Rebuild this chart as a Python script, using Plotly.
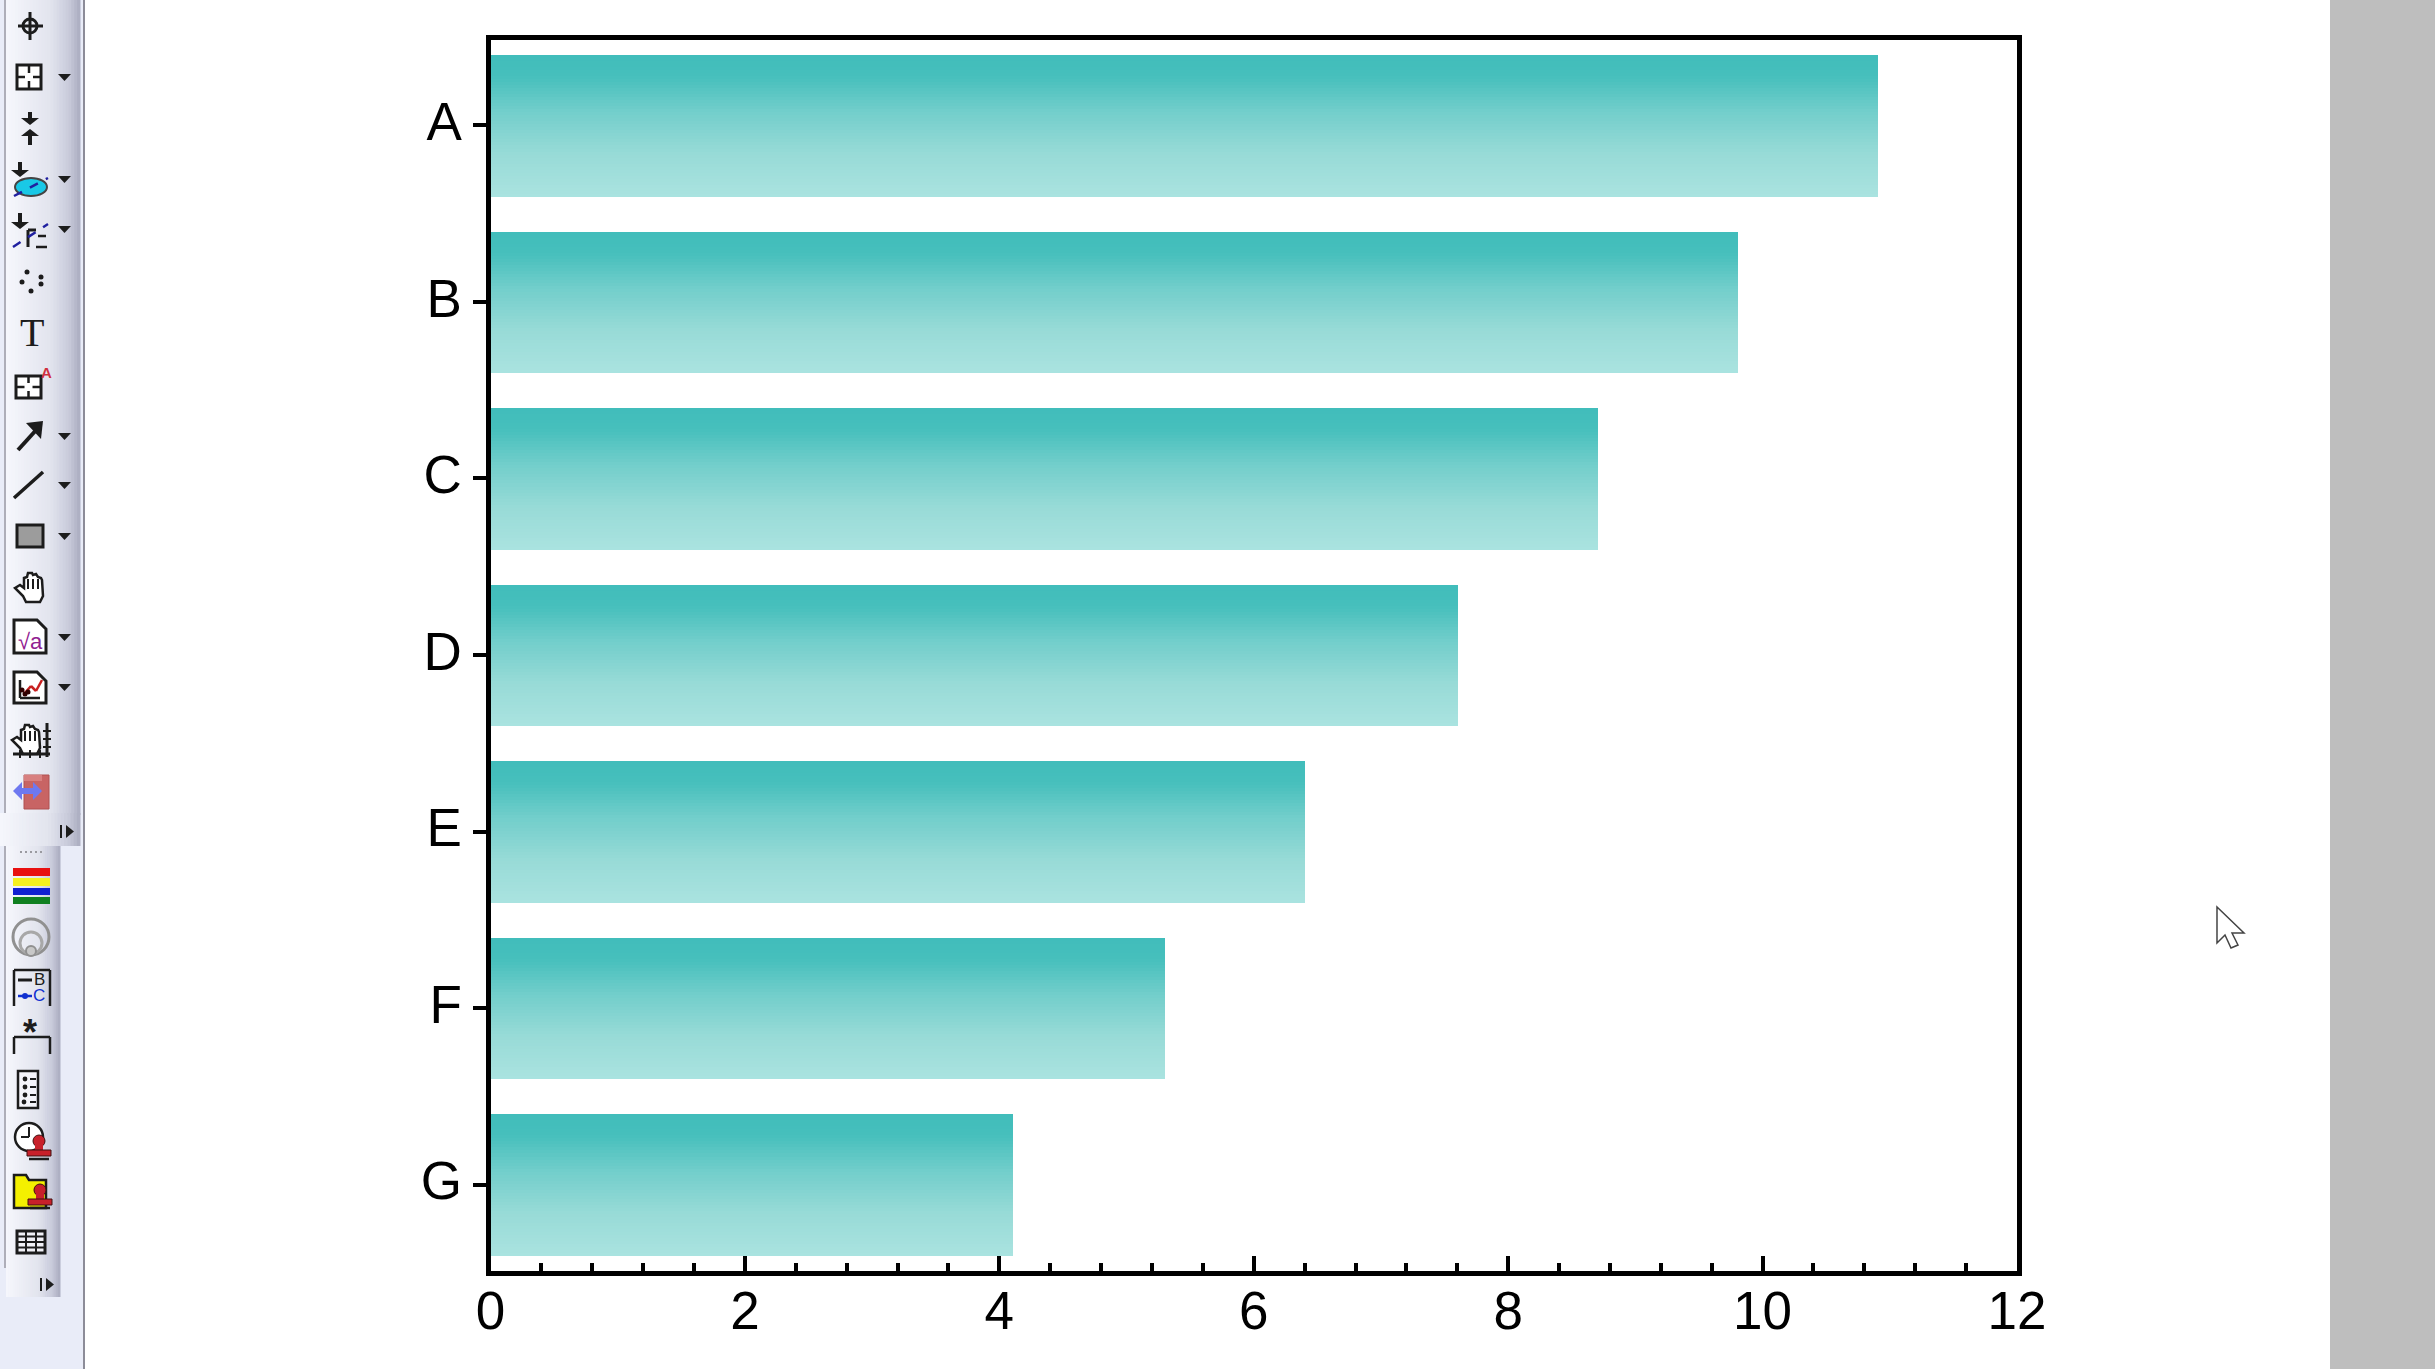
import plotly.graph_objects as go

categories = ["A", "B", "C", "D", "E", "F", "G"]
values = [10.9, 9.8, 8.7, 7.6, 6.4, 5.3, 4.1]
x_ticks = [0, 2, 4, 6, 8, 10, 12]

W, H = 2435, 1369
FONT = "Liberation Sans"
INK = "#000000"
DARK = "#1C1C1C"

# gradient of each bar, top to bottom: (fraction, rgb)
GRADIENT = [
    (0.0, (65, 189, 187)),
    (0.15, (70, 191, 188)),
    (0.4, (114, 206, 203)),
    (0.7, (152, 219, 215)),
    (1.0, (170, 227, 224)),
]
N_STRIPS = 47
BAR_WIDTH = 0.8

# toolbar shading, left to right
PANEL = [
    (0.0, (246, 247, 252)),
    (0.6, (226, 228, 238)),
    (0.85, (200, 202, 218)),
    (1.0, (170, 172, 192)),
]


def ramp(stops, t):
    for (t0, c0), (t1, c1) in zip(stops, stops[1:]):
        if t <= t1:
            f = (t - t0) / (t1 - t0)
            rgb = [round(a + (b - a) * f) for a, b in zip(c0, c1)]
            return "rgb({},{},{})".format(*rgb)
    return "rgb({},{},{})".format(*stops[-1][1])


fig = go.Figure()

# plotly bars have no gradient fill, so each bar is a stack of thin strips
strip = BAR_WIDTH / N_STRIPS
for i in range(N_STRIPS):
    fig.add_trace(
        go.Bar(
            x=values,
            y=categories,
            orientation="h",
            width=strip,
            offset=-BAR_WIDTH / 2 + i * strip,
            marker=dict(color=ramp(GRADIENT, (i + 0.5) / N_STRIPS), line=dict(width=0)),
            hoverinfo="skip",
            showlegend=False,
        )
    )

shapes = []
annotations = []


# the window chrome around the chart is given in screen pixels
def X(px):
    return px / W


def Y(py):
    return 1 - py / H


def rect(x0, y0, x1, y1, fill="rgba(0,0,0,0)", color=DARK, lw=0):
    shapes.append(
        dict(type="rect", xref="paper", yref="paper", x0=X(x0), y0=Y(y0), x1=X(x1), y1=Y(y1),
             fillcolor=fill, line=dict(color=color, width=lw))
    )


def line(x0, y0, x1, y1, color=DARK, lw=2, dash="solid"):
    shapes.append(
        dict(type="line", xref="paper", yref="paper", x0=X(x0), y0=Y(y0), x1=X(x1), y1=Y(y1),
             line=dict(color=color, width=lw, dash=dash))
    )


def circ(cx, cy, rx, ry=None, fill="rgba(0,0,0,0)", color=DARK, lw=0):
    ry = rx if ry is None else ry
    shapes.append(
        dict(type="circle", xref="paper", yref="paper", x0=X(cx - rx), y0=Y(cy + ry), x1=X(cx + rx), y1=Y(cy - ry),
             fillcolor=fill, line=dict(color=color, width=lw))
    )


def poly(pts, fill=DARK, color=DARK, lw=0):
    d = "M" + " L".join(f"{X(a):.6f},{Y(b):.6f}" for a, b in pts) + " Z"
    shapes.append(
        dict(type="path", xref="paper", yref="paper", path=d, fillcolor=fill, line=dict(color=color, width=lw))
    )


def label(x, y, text, size, color=DARK, family=FONT):
    annotations.append(
        dict(xref="paper", yref="paper", x=X(x), y=Y(y), text=text, showarrow=False,
             xanchor="center", yanchor="middle", font=dict(family=family, size=size, color=color))
    )


def shaded(x0, x1, y0, y1, steps=25):
    # vertical bands standing in for the toolbar's gradient
    step = (x1 - x0) / steps
    for k in range(steps):
        rect(x0 + k * step, y0, x0 + (k + 1) * step + 0.5, y1, fill=ramp(PANEL, (k + 0.5) / steps))


def dropdown(y):
    poly([(58, y - 3), (71, y - 3), (64.5, y + 4)], fill=DARK)


def arrow_down(x, y0, y1):
    line(x, y0, x, y1 - 4, lw=4)
    poly([(x - 9, y1 - 6), (x + 9, y1 - 6), (x, y1 + 1)])


def grid_box(x0, y0, x1, y1):
    rect(x0, y0, x1, y1, fill="#FFFFFF", lw=3)
    mx, my = (x0 + x1) / 2, (y0 + y1) / 2
    line(x0, my, mx - 4, my, lw=2.5)
    line(mx + 4, my, x1, my, lw=2.5)
    line(mx, y0, mx, my - 4, lw=2.5)
    line(mx, my + 4, mx, y1, lw=2.5)


def hand(cx, cy):
    pts = [(-16, 0), (-11, -3), (-7, 0), (-7, -10), (-4, -11), (-3, -15), (1, -15), (2, -13), (5, -14), (7, -11),
           (10, -10), (11, -8), (12, 8), (9, 14), (-5, 14), (-8, 8)]
    poly([(cx + a, cy + b) for a, b in pts], fill="#FFFFFF", color=DARK, lw=2.5)
    for dx in (-3, 2, 7):
        line(cx + dx, cy - 9, cx + dx, cy + 1, lw=2)


def document(x0, y0, x1, y1):
    poly([(x0, y0), (x1 - 9, y0), (x1, y0 + 9), (x1, y1), (x0, y1)], fill="#FFFFFF", color=DARK, lw=3)


def stamp(cx, cy):
    circ(cx, cy - 9, 6, fill="#C8202A", color="#401010", lw=1)
    rect(cx - 4, cy - 6, cx + 4, cy, fill="#C8202A")
    rect(cx - 12, cy, cx + 12, cy + 6, fill="#C8202A", color="#401010", lw=1)
    line(cx - 10, cy + 9, cx + 10, cy + 9, color=DARK, lw=2.5)


# grey area of the application window on the right
rect(2330, 0, W, H, fill="#BEBEBE")

# toolbar column
rect(0, 0, 84, H, fill="#E9ECF8")
line(84, 0, 84, H, color="#8C8C98", lw=2)
shaded(6, 80, 0, 815)
line(5, 0, 5, 815, color="#9A9AA4", lw=1.5)
shaded(0, 80, 813, 846)
shaded(6, 60, 846, 1297)
line(5, 846, 5, 1268, color="#9A9AA4", lw=1.5)

# upper toolbar icons
circ(30, 26, 7, lw=3)
line(30, 12, 30, 40, lw=3)
line(18, 26, 43, 26, lw=3)

grid_box(17, 65, 41, 89)
dropdown(77)

arrow_down(30, 112, 124)
poly([(21, 136), (39, 136), (30, 129)])
line(30, 134, 30, 145, lw=4)

arrow_down(20, 162, 176)
circ(31, 187, 16, 9, fill="#19C8E6", color="#444444", lw=2)
line(14, 196, 48, 178, color="#2020A0", lw=2.5, dash="dash")
dropdown(179)

arrow_down(20, 213, 228)
line(28, 230, 28, 247, lw=3)
line(28, 230, 36, 230, lw=3)
line(38, 236, 46, 236, lw=2.5)
line(36, 247, 47, 247, lw=2.5)
line(13, 247, 48, 224, color="#2020A0", lw=2.5, dash="dash")
dropdown(229)

for cx, cy in [(27, 272), (41, 277), (41, 284), (22, 282), (31, 291)]:
    circ(cx, cy, 2.5, fill=DARK)

label(32, 332, "T", 40, family="Liberation Serif")

grid_box(16, 376, 41, 398)
label(46, 372, "<b>A</b>", 15, color="#D03040")

line(18, 450, 38, 428, lw=4)
poly([(26, 423), (43, 421), (41, 439)])
dropdown(436)

line(14, 498, 43, 472, lw=3.5)
dropdown(485)

rect(17, 525, 43, 547, fill="#9C9C9C", lw=3)
dropdown(536)

hand(31, 588)

document(14, 620, 46, 653)
label(30, 641, "√a", 22, color="#902090")
dropdown(637)

document(14, 672, 46, 703)
line(20, 680, 20, 698, lw=2.5)
line(20, 698, 40, 698, lw=2.5)
line(24, 694, 31, 686, color="#C82020", lw=2.5)
line(31, 686, 36, 691, color="#C82020", lw=2.5)
line(36, 691, 42, 680, color="#C82020", lw=2.5)
for cx, cy in [(22, 690), (25, 694), (28, 692)]:
    circ(cx, cy, 2.5, fill="#300000")
dropdown(687)

hand(28, 740)
line(47, 723, 47, 757, lw=3)
line(13, 754, 50, 754, lw=3)
for ty in (731, 739, 747):
    line(43, ty, 51, ty, lw=2)
for tx in (20, 30, 40):
    line(tx, 750, tx, 758, lw=2)

rect(24, 775, 49, 809, fill="#C86464", color="#B05050", lw=1)
rect(24, 775, 42, 781, fill="#D88080")
line(20, 791, 36, 791, color="#6E78F0", lw=6)
poly([(13, 791), (22, 782), (22, 800)], fill="#6E78F0")
poly([(42, 791), (33, 782), (33, 800)], fill="#6E78F0")

rect(60, 825, 62, 838, fill=DARK)
poly([(66, 825), (74, 831.5), (66, 838)], fill=DARK)

# lower toolbar icons
for dx in (20, 25, 30, 35, 40):
    line(dx, 852, dx + 2, 852, color="#9A9AA0", lw=2)

rect(13, 868, 50, 876, fill="#E81010")
rect(13, 878, 50, 886, fill="#F5F020")
rect(13, 888, 50, 895, fill="#1020D0")
rect(13, 897, 50, 904, fill="#108020")

circ(31, 937, 18, color="#909090", lw=3)
circ(31, 943, 11, color="#A8A8A8", lw=3)
circ(31, 951, 5, fill="#C8C8C8", color="#909090", lw=2)

line(14, 970, 50, 970, lw=2.5)
line(14, 970, 14, 1006, lw=2.5)
line(50, 970, 50, 1006, lw=2.5)
line(18, 980, 32, 980, lw=3)
label(39, 979, "B", 17)
line(18, 996, 32, 996, color="#1030D0", lw=2.5)
circ(25, 996, 3, fill="#1030D0")
label(39, 996, "C", 17, color="#1030D0")

label(30, 1032, "<b>*</b>", 36)
line(14, 1037, 50, 1037, lw=2.5)
line(14, 1037, 14, 1054, lw=2.5)
line(50, 1037, 50, 1054, lw=2.5)

rect(18, 1071, 38, 1108, fill="#F4F4FA", lw=2.5)
for ry, rx in [(1079, 25), (1087, 25), (1095, 25), (1102, 24)]:
    circ(rx, ry, 2.4, fill=DARK)
    line(30, ry, 36, ry, lw=2)

circ(29, 1137, 14, fill="#FFFFFF", lw=2.5)
line(29, 1137, 29, 1127, lw=2)
line(29, 1137, 21, 1137, lw=2)
stamp(39, 1150)

poly([(14, 1175), (26, 1175), (29, 1180), (46, 1180), (46, 1208), (14, 1208)], fill="#F4F000", color=DARK, lw=2.5)
stamp(40, 1199)

rect(17, 1231, 45, 1253, fill="#F0F0F6", lw=3)
for ty in (1236.5, 1242, 1247.5):
    line(17, ty, 45, ty, lw=2)
for tx in (26, 36):
    line(tx, 1231, tx, 1253, lw=2)

rect(40, 1278, 42, 1291, fill=DARK)
poly([(46, 1278), (54, 1284.5), (46, 1291)], fill=DARK)

# mouse pointer
poly([(2217, 907), (2217, 943), (2225, 935), (2231, 948), (2238, 945), (2232, 933), (2244, 933)],
     fill="#FFFFFF", color="#444444", lw=1.5)

fig.update_layout(
    template="none",
    width=W,
    height=H,
    margin=dict(l=0, r=0, t=0, b=0, autoexpand=False),
    paper_bgcolor="#FFFFFF",
    plot_bgcolor="rgba(0,0,0,0)",
    barmode="overlay",
    bargap=0,
    shapes=shapes,
    annotations=annotations,
    font=dict(family=FONT, size=53, color=INK),
    xaxis=dict(
        domain=[490.5 / W, 2017 / W],
        range=[0, 12],
        automargin=False,
        tickvals=x_ticks,
        ticks="inside",
        ticklen=15,
        tickwidth=4,
        tickcolor=INK,
        ticklabelstandoff=-10,
        showline=True,
        linecolor=INK,
        linewidth=5,
        mirror=True,
        showgrid=False,
        zeroline=False,
        anchor="y",
        minor=dict(dtick=0.4, ticks="inside", ticklen=8, tickwidth=4, tickcolor=INK, showgrid=False),
    ),
    yaxis=dict(
        domain=[1 - 1270.5 / H, 1 - 39.5 / H],
        type="category",
        categoryorder="array",
        categoryarray=categories,
        range=[6.487, -0.487],
        automargin=False,
        ticks="outside",
        ticklen=13,
        tickwidth=4,
        tickcolor=INK,
        ticklabelshift=4,
        showline=True,
        linecolor=INK,
        linewidth=5,
        mirror=True,
        showgrid=False,
        zeroline=False,
        anchor="x",
    ),
)

fig.write_html(
    "out.html",
    config=dict(displayModeBar=False),
    post_script="document.body.style.margin='0';",
)
